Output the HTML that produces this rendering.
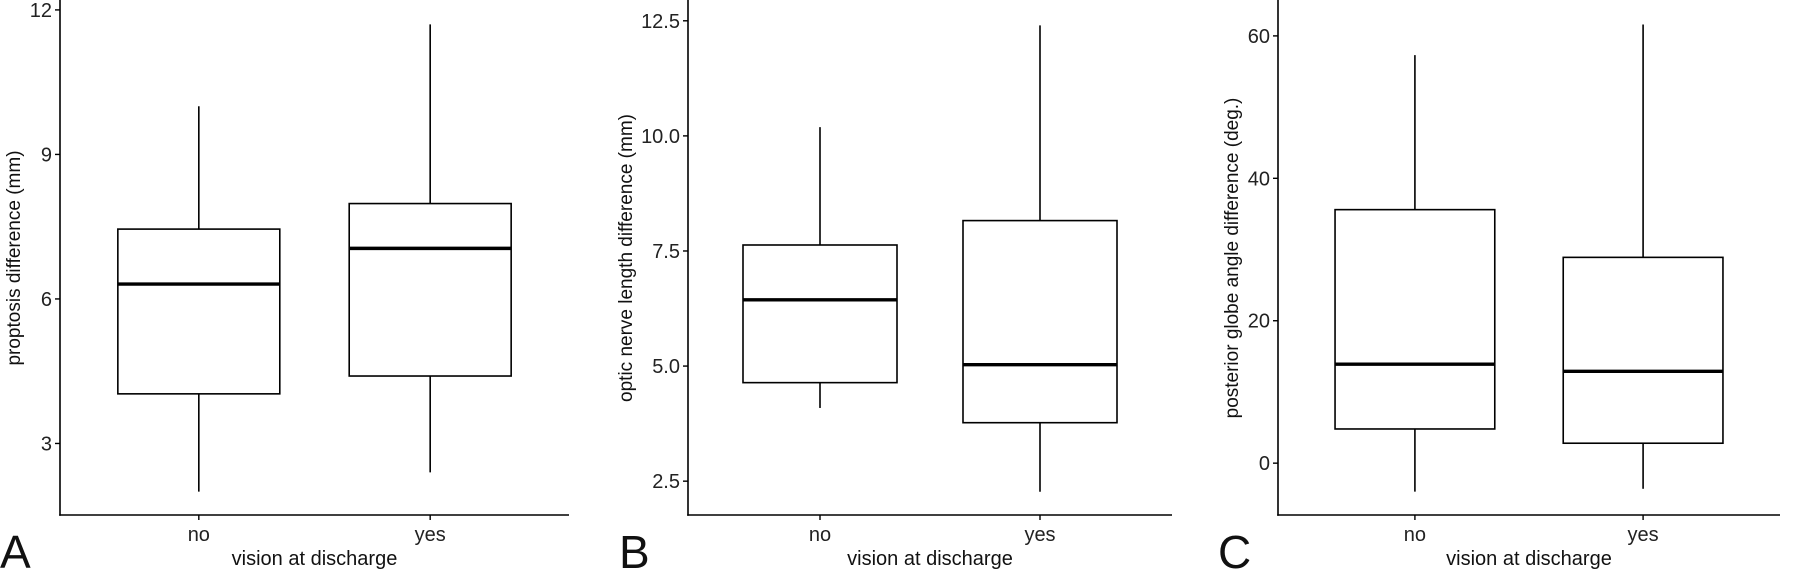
<!DOCTYPE html>
<html><head><meta charset="utf-8">
<style>
html,body{margin:0;padding:0;background:#fff;}
svg{display:block;font-family:"Liberation Sans",sans-serif;}
</style></head>
<body>
<svg id="fig" width="1800" height="571" viewBox="0 0 1800 571" xmlns="http://www.w3.org/2000/svg"></svg>
<script>
// ---- data ----
const categories = ["no", "yes"];
// [min, q1, median, q3, max]
const proptosisNo = [2.0, 4.03, 6.31, 7.45, 10.0];
const proptosisYes = [2.4, 4.4, 7.05, 7.98, 11.7];
const nerveNo = [4.09, 4.64, 6.44, 7.63, 10.19];
const nerveYes = [2.27, 3.77, 5.03, 8.16, 12.4];
const angleNo = [-4.0, 4.8, 13.9, 35.6, 57.3];
const angleYes = [-3.6, 2.8, 12.9, 28.9, 61.6];
const ticksA = [3, 6, 9, 12];
const tickLabelsA = ["3", "6", "9", "12"];
const ticksB = [2.5, 5.0, 7.5, 10.0, 12.5];
const tickLabelsB = ["2.5", "5.0", "7.5", "10.0", "12.5"];
const ticksC = [0, 20, 40, 60];
const tickLabelsC = ["0", "20", "40", "60"];

const NS = "http://www.w3.org/2000/svg";
const svg = document.getElementById("fig");
function mk(tag, attrs, parent) {
  const e = document.createElementNS(NS, tag);
  for (const k in attrs) e.setAttribute(k, attrs[k]);
  (parent || svg).appendChild(e);
  return e;
}

const panels = [
  {id:"a", letter:"A", x0:60, x1:569, dom:[1.515, 12.185], ticks:ticksA, labels:tickLabelsA,
   series:[proptosisNo, proptosisYes], title:"proptosis difference (mm)", titleX:14, letterX:0},
  {id:"b", letter:"B", x0:688, x1:1172, dom:[1.765, 12.93], ticks:ticksB, labels:tickLabelsB,
   series:[nerveNo, nerveYes], title:"optic nerve length difference (mm)", titleX:626, letterX:619},
  {id:"c", letter:"C", x0:1278, x1:1780, dom:[-7.28, 64.9], ticks:ticksC, labels:tickLabelsC,
   series:[angleNo, angleYes], title:"posterior globe angle difference (deg.)", titleX:1232, letterX:1218}
];
const yTop = 1, yBot = 515;

panels.forEach(p => {
  const g = mk("g", {});
  
  
  const y = v => yBot - (v - p.dom[0]) / (p.dom[1] - p.dom[0]) * (yBot - yTop);
  const W = p.x1 - p.x0;
  const x = i => p.x0 + (0.6 + i) / 2.2 * W;
  const bw = 0.7 * W / 2.2;

  // boxes
  p.series.forEach((s, i) => {
    const bg = mk("g", {}, g);
    
    
    const cx = x(i);
    const w1 = mk("line", {x1:cx, x2:cx, y1:y(s[3]), y2:y(s[4]), stroke:"#000", "stroke-width":1.6}, bg);
    
    
    const w2 = mk("line", {x1:cx, x2:cx, y1:y(s[1]), y2:y(s[0]), stroke:"#000", "stroke-width":1.6}, bg);
    
    
    const r = mk("rect", {x:cx - bw/2, y:y(s[3]), width:bw, height:y(s[1]) - y(s[3]), fill:"#fff", stroke:"#000", "stroke-width":1.6}, bg);
    
    
    const m = mk("line", {x1:cx - bw/2, x2:cx + bw/2, y1:y(s[2]), y2:y(s[2]), stroke:"#000", "stroke-width":3.4}, bg);
    
    
  });

  // axes
  const ya = mk("line", {x1:p.x0, x2:p.x0, y1:0, y2:yBot + 0.8, stroke:"#000", "stroke-width":1.6}, g);
  
  
  const xa = mk("line", {x1:p.x0 - 0.8, x2:p.x1, y1:yBot, y2:yBot, stroke:"#000", "stroke-width":1.6}, g);
  
  

  p.ticks.forEach((t, k) => {
    const ty = y(t);
    const tl = mk("line", {x1:p.x0 - 5, x2:p.x0, y1:ty, y2:ty, stroke:"#000", "stroke-width":1.4}, g);
    
    
    const tx = mk("text", {x:p.x0 - 8, y:ty + 7, "text-anchor":"end", "font-size":20, fill:"#222"}, g);
    tx.textContent = p.labels[k];
    
    
  });
  categories.forEach((c, i) => {
    const cx = x(i);
    const tl = mk("line", {x1:cx, x2:cx, y1:yBot, y2:yBot + 5, stroke:"#000", "stroke-width":1.4}, g);
    
    
    const tx = mk("text", {x:cx, y:541, "text-anchor":"middle", "font-size":20, fill:"#222"}, g);
    tx.textContent = c;
    
    
  });

  const xt = mk("text", {x:(p.x0 + p.x1)/2, y:565, "text-anchor":"middle", "font-size":20, fill:"#111"}, g);
  xt.textContent = "vision at discharge";
  
  

  const yt = mk("text", {x:0, y:0, "text-anchor":"middle", "font-size":19, fill:"#111",
    transform:"translate(" + (p.titleX + 6) + "," + ((yTop + yBot)/2) + ") rotate(-90)"}, g);
  yt.textContent = p.title;
  
  

  const lt = mk("text", {x:p.letterX, y:568, "font-size":46, fill:"#111"}, g);
  lt.textContent = p.letter;
  
  
});
</script>
</body></html>
